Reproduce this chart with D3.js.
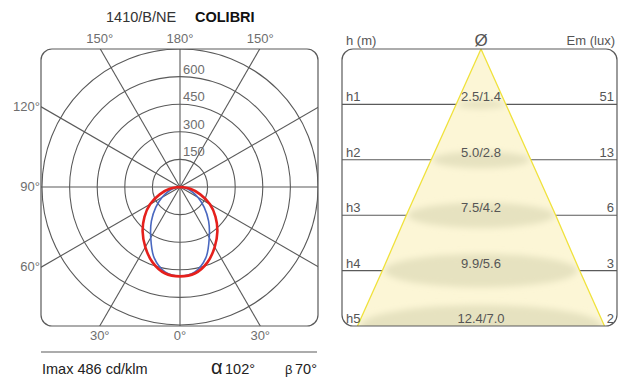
<!DOCTYPE html>
<html>
<head>
<meta charset="utf-8">
<script src="https://cdn.jsdelivr.net/npm/d3@7"></script>
<style>
  body { margin: 0; background: #fff; }
  svg { display: block; font-family: "Liberation Sans", Arial, sans-serif; }
</style>
</head>
<body>
<div id="chart"></div>
<script>
// --- data ---
const productCode = "1410/B/NE";
const productName = "COLIBRI";
const gammaAngles = [0, 10, 20, 30, 40, 50, 60, 70, 80, 90];
const planeC0 = [486, 476, 436, 377, 316, 252, 188, 117, 57, 0];   // red
const planeC90 = [484, 468, 410, 318, 242, 172, 112, 64, 25, 0];   // blue
const ringValues = [150, 300, 450, 600, 750];
const ringLabels = [150, 300, 450, 600];
const spokeAngles = [0, 30, 60, 90, 120, 150, 180];
const imax = 486;
const alphaAngle = 102;
const betaAngle = 70;

const levelNames = ["h1", "h2", "h3", "h4", "h5"];
const levelHeights = [1, 2, 3, 4, 5];
const diamAlpha = [2.5, 5.0, 7.5, 9.9, 12.4];
const diamBeta = [1.4, 2.8, 4.2, 5.6, 7.0];
const emLux = [51, 13, 6, 3, 2];

const W = 618, H = 377;
const svg = d3.select("#chart").append("svg")
    .attr("width", W)
    .attr("height", H);

const grid = "#5a5a5a";
const labelGrey = "#6e6e6e";

// title
const title = svg.append("text").attr("y", 22).attr("font-size", 14.5);
title.append("tspan").attr("x", 106).attr("fill", "#333").text(productCode);
title.append("tspan").attr("x", 195).attr("fill", "#111").attr("font-weight", "bold").text(productName);

// ---------------- polar diagram ----------------
const box = { x: 41, y: 49, w: 277, h: 277 };
const cx = 180, cy = 187;
const half = 139;
const r = d3.scaleLinear().domain([0, 750]).range([0, 138]);

const defs = svg.append("defs");
defs.append("clipPath").attr("id", "polarClip")
    .append("rect")
    .attr("x", box.x).attr("y", box.y).attr("width", box.w).attr("height", box.h)
    .attr("rx", 11);

const polar = svg.append("g").attr("clip-path", "url(#polarClip)");

polar.selectAll(".ring")
    .data(ringValues)
    .enter()
    .append("circle")
    .attr("class", "ring")
    .attr("cx", cx).attr("cy", cy)
    .attr("r", d => r(d))
    .style("fill", "none")
    .style("stroke", grid)
    .style("stroke-width", 1.1);

// spokes, gamma measured from straight down
const spokeDirs = [];
spokeAngles.forEach(a => {
    spokeDirs.push(a);
    if (a !== 0 && a !== 180) spokeDirs.push(-a);
});
polar.selectAll(".spoke")
    .data(spokeDirs)
    .enter()
    .append("line")
    .attr("class", "spoke")
    .attr("x1", cx).attr("y1", cy)
    .attr("x2", d => cx + 300 * Math.sin(d * Math.PI / 180))
    .attr("y2", d => cy + 300 * Math.cos(d * Math.PI / 180))
    .style("stroke", grid)
    .style("stroke-width", 1.1);

svg.append("rect")
    .attr("x", box.x).attr("y", box.y).attr("width", box.w).attr("height", box.h)
    .attr("rx", 11)
    .style("fill", "none")
    .style("stroke", grid)
    .style("stroke-width", 1.2);

// ring value labels
svg.selectAll(".ringLabel")
    .data(ringLabels)
    .enter()
    .append("text")
    .attr("class", "ringLabel")
    .attr("x", cx + 3)
    .attr("y", d => cy - r(d) - 3)
    .attr("font-size", 13)
    .attr("fill", labelGrey)
    .text(d => d);

// angle labels where the spokes meet the frame
const angleLabels = [];
spokeDirs.forEach(d => {
    const t = d * Math.PI / 180;
    const s = Math.sin(t), c = Math.cos(t);
    const L = half / Math.max(Math.abs(s), Math.abs(c));
    const px = cx + L * s, py = cy + L * c;
    if (Math.abs(c) > Math.abs(s) + 1e-6) {
        angleLabels.push({ a: Math.abs(d), x: px, y: c > 0 ? py + 14 : py - 5, anchor: "middle" });
    } else if (s < 0) {
        angleLabels.push({ a: Math.abs(d), x: px - 1, y: py + 4, anchor: "end" });
    }
});
svg.selectAll(".angleLabel")
    .data(angleLabels)
    .enter()
    .append("text")
    .attr("class", "angleLabel")
    .attr("x", d => d.x)
    .attr("y", d => d.y)
    .attr("text-anchor", d => d.anchor)
    .attr("font-size", 13)
    .attr("fill", labelGrey)
    .text(d => d.a + "°");

// intensity curves
function curvePoints(values) {
    const pts = [];
    for (let i = gammaAngles.length - 1; i >= 0; i--) {
        pts.push({ a: Math.PI - gammaAngles[i] * Math.PI / 180, v: values[i] });
    }
    for (let i = 1; i < gammaAngles.length; i++) {
        pts.push({ a: Math.PI + gammaAngles[i] * Math.PI / 180, v: values[i] });
    }
    return pts;
}
const radial = d3.lineRadial()
    .angle(d => d.a)
    .radius(d => r(d.v))
    .curve(d3.curveCatmullRom.alpha(0.5));

const curves = svg.append("g").attr("transform", `translate(${cx},${cy})`);
curves.append("path")
    .attr("d", radial(curvePoints(planeC90)))
    .style("fill", "none")
    .style("stroke", "#4a68c0")
    .style("stroke-width", 1.6);
curves.append("path")
    .attr("d", radial(curvePoints(planeC0)))
    .style("fill", "none")
    .style("stroke", "#e5201c")
    .style("stroke-width", 2.6);

// footer
svg.append("line")
    .attr("x1", 41).attr("x2", 317).attr("y1", 352).attr("y2", 352)
    .style("stroke", grid).style("stroke-width", 1.2);
svg.append("text")
    .attr("x", 42).attr("y", 374)
    .attr("font-size", 14.5).attr("fill", "#222")
    .text(`Imax ${imax} cd/klm`);
const aText = svg.append("text").attr("y", 374).attr("fill", "#222");
aText.append("tspan").attr("x", 211).attr("font-size", 20).text("α");
aText.append("tspan").attr("x", 225).attr("font-size", 14.5).text(alphaAngle + "°");
const bText = svg.append("text").attr("y", 374).attr("fill", "#222");
bText.append("tspan").attr("x", 285).attr("font-size", 13).text("β");
bText.append("tspan").attr("x", 295).attr("font-size", 14.5).text(betaAngle + "°");

// ---------------- cone diagram ----------------
const cbox = { x: 342, y: 49, w: 275, h: 277 };
const apexX = 481;
const y = d3.scaleLinear().domain([0, 5]).range([cbox.y, cbox.y + cbox.h]);
const hw = d3.scaleLinear().domain([0, 12.4]).range([0, 123.5]);

const cone = svg.append("g");

cone.selectAll(".level")
    .data(levelHeights.slice(0, 4))
    .enter()
    .append("line")
    .attr("class", "level")
    .attr("x1", cbox.x).attr("x2", cbox.x + cbox.w)
    .attr("y1", d => y(d)).attr("y2", d => y(d))
    .style("stroke", grid)
    .style("stroke-width", 1.1);

const conePts = [{ h: 0, d: 0 }].concat(levelHeights.map((h, i) => ({ h: h, d: diamAlpha[i] })));
const leftEdge = conePts.map(p => [apexX - hw(p.d), y(p.h)]);
const rightEdge = conePts.map(p => [apexX + hw(p.d), y(p.h)]).reverse();
const conePoly = leftEdge.concat(rightEdge);

defs.append("clipPath").attr("id", "coneClip")
    .append("path").attr("d", d3.line()(conePoly) + "Z");
const blur = defs.append("filter").attr("id", "soft")
    .attr("x", "-20%").attr("y", "-60%").attr("width", "140%").attr("height", "220%");
blur.append("feGaussianBlur").attr("stdDeviation", 3);

cone.append("path")
    .attr("d", d3.line()(conePoly) + "Z")
    .style("fill", "#fcf6d6")
    .style("stroke", "none");

cone.append("g").attr("clip-path", "url(#coneClip)")
    .append("g").attr("filter", "url(#soft)")
    .selectAll(".spot")
    .data(levelHeights)
    .enter()
    .append("ellipse")
    .attr("class", "spot")
    .attr("cx", apexX)
    .attr("cy", d => y(d))
    .attr("rx", (d, i) => hw(diamAlpha[i]) * 0.98)
    .attr("ry", (d, i) => hw(diamAlpha[i]) * 0.17)
    .style("fill", "#e6e2c0");

cone.append("path")
    .attr("d", d3.line()(leftEdge))
    .style("fill", "none").style("stroke", "#f0e23c").style("stroke-width", 1.3);
cone.append("path")
    .attr("d", d3.line()(rightEdge))
    .style("fill", "none").style("stroke", "#f0e23c").style("stroke-width", 1.3);

svg.append("rect")
    .attr("x", cbox.x).attr("y", cbox.y).attr("width", cbox.w).attr("height", cbox.h)
    .attr("rx", 11)
    .style("fill", "none")
    .style("stroke", grid)
    .style("stroke-width", 1.2);

// cone headers
svg.append("text").attr("x", 346).attr("y", 45).attr("font-size", 13).attr("fill", "#555").text("h (m)");
svg.append("text").attr("x", apexX).attr("y", 46).attr("text-anchor", "middle").attr("font-size", 17).attr("fill", "#555").text("Ø");
svg.append("text").attr("x", 615).attr("y", 45).attr("text-anchor", "end").attr("font-size", 13).attr("fill", "#555").text("Em (lux)");

const rows = svg.selectAll(".row")
    .data(levelHeights)
    .enter()
    .append("g")
    .attr("class", "row");
rows.append("text")
    .attr("x", 346).attr("y", d => y(d) - 3)
    .attr("font-size", 13).attr("fill", "#555")
    .text((d, i) => levelNames[i]);
rows.append("text")
    .attr("x", apexX).attr("y", d => y(d) - 3)
    .attr("text-anchor", "middle")
    .attr("font-size", 13).attr("fill", "#555")
    .text((d, i) => diamAlpha[i].toFixed(1) + "/" + diamBeta[i].toFixed(1));
rows.append("text")
    .attr("x", 614).attr("y", d => y(d) - 3)
    .attr("text-anchor", "end")
    .attr("font-size", 13).attr("fill", "#555")
    .text((d, i) => emLux[i]);
</script>
</body>
</html>
